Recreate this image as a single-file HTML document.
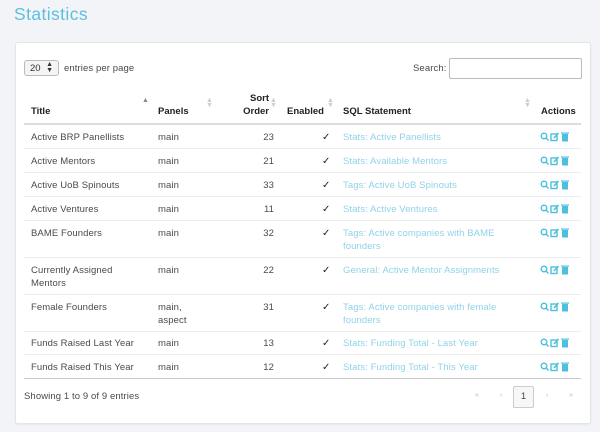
<!DOCTYPE html>
<html><head><meta charset="utf-8"><style>
*{margin:0;padding:0;box-sizing:border-box}
body{width:600px;height:432px;background:#f3f4f8;font-family:"Liberation Sans",sans-serif;position:relative;overflow:hidden;color:#333}
.a{position:absolute;white-space:nowrap}
h1{position:absolute;left:14px;top:4px;font-weight:normal;font-size:17.5px;color:#5bc0de;letter-spacing:0.4px}
.card{position:absolute;left:15px;top:42px;width:576px;height:382px;background:#fff;border:1px solid #e3e5ea;border-radius:3px;box-shadow:0 1px 2px rgba(0,0,0,.06)}
.t{font-size:9.5px;color:#4a4a4a;letter-spacing:0.1px}
.h{font-size:9.5px;font-weight:bold;color:#222}
.l{font-size:9.5px;color:#8fd3e8;letter-spacing:0.1px}
.line{position:absolute;left:24px;width:557px;height:1px;background:#ececec}
.sort{position:absolute;font-size:7px;color:#ccc;line-height:5px}
.ic{position:absolute;width:30px;height:10px}
.ck{font-size:10px;color:#222}
</style></head><body>
<h1>Statistics</h1>
<div class="card"></div>
<div class="a" style="left:24px;top:60px;width:35px;height:16px;border:1px solid #bbb;border-radius:3px;background:#f4f4f4;font-size:9.5px;padding:2px 0 0 5px">20 <span style="position:absolute;right:5px;top:1px;font-size:7px;line-height:6px">▲<br>▼</span></div>
<div class="a t" style="left:64px;top:63px">entries per page</div>
<div class="a t" style="left:413px;top:63px">Search:</div>
<div class="a" style="left:449px;top:58px;width:133px;height:21px;border:1px solid #bbb;border-radius:2px"></div>

<div class="a h" style="left:31px;top:106px">Title</div>
<div class="a" style="left:142px;top:97px;font-size:7px;color:#888">▲</div>
<div class="a h" style="left:158px;top:106px">Panels</div>
<div class="sort" style="left:206px;top:98px">▲<br>▼</div>
<div class="a h" style="left:242px;top:93px;text-align:right;width:27px">Sort</div>
<div class="a h" style="left:236px;top:106px;text-align:right;width:33px">Order</div>
<div class="sort" style="left:270px;top:98px">▲<br>▼</div>
<div class="a h" style="left:287px;top:106px">Enabled</div>
<div class="sort" style="left:327px;top:98px">▲<br>▼</div>
<div class="a h" style="left:343px;top:106px">SQL Statement</div>
<div class="sort" style="left:524px;top:98px">▲<br>▼</div>
<div class="a h" style="left:541px;top:106px">Actions</div>
<div class="line" style="top:123px;height:2px;background:#ddd"></div>

<div id="rows"></div>
<div class="line" style="top:378px;height:1px;background:#ccc"></div>
<div class="a t" style="left:24px;top:391px">Showing 1 to 9 of 9 entries</div>
<div class="a" style="left:475px;top:392px;font-size:7px;color:#bbb">«</div>
<div class="a" style="left:500px;top:392px;font-size:7px;color:#bbb">‹</div>
<div class="a" style="left:513px;top:386px;width:21px;height:22px;border:1px solid #ccc;border-radius:2px;background:#f7f7f7;font-size:9.5px;text-align:center;line-height:20px;color:#444">1</div>
<div class="a" style="left:546px;top:392px;font-size:7px;color:#bbb">›</div>
<div class="a" style="left:569px;top:392px;font-size:7px;color:#bbb">»</div>
<script>
var rows=[
["Active BRP Panellists","main","23","Stats: Active Panellists",130,148],
["Active Mentors","main","21","Stats: Available Mentors",154,172],
["Active UoB Spinouts","main","33","Tags: Active UoB Spinouts",178,196],
["Active Ventures","main","11","Stats: Active Ventures",202,220],
["BAME Founders","main","32","Tags: Active companies with BAME<br>founders",226,257],
["Currently Assigned<br>Mentors","main","22","General: Active Mentor Assignments",263,294],
["Female Founders","main,<br>aspect","31","Tags: Active companies with female<br>founders",300,331],
["Funds Raised Last Year","main","13","Stats: Funding Total - Last Year",336,354],
["Funds Raised This Year","main","12","Stats: Funding Total - This Year",360,null]];
var s="";
var icon='<svg class="ic" viewBox="0 0 30 10"><g fill="none" stroke="#4cc0de" stroke-width="1.4"><circle cx="4" cy="4" r="2.8"/><path d="M6 6l2.5 2.5"/><rect x="11" y="2" width="6" height="6.5"/></g><path d="M14 6l4.5-5" stroke="#4cc0de" stroke-width="1.6"/><rect x="22" y="2" width="6" height="7.5" fill="#4cc0de"/><rect x="21" y="0.5" width="8" height="1.2" fill="#4cc0de"/></svg>';
rows.forEach(function(r){
 var y=r[4]+1;
 s+='<div class="a t" style="left:31px;top:'+y+'px;line-height:13px">'+r[0]+'</div>';
 s+='<div class="a t" style="left:158px;top:'+y+'px;line-height:13px">'+r[1]+'</div>';
 s+='<div class="a t" style="left:240px;width:34px;text-align:right;top:'+y+'px;line-height:13px">'+r[2]+'</div>';
 s+='<div class="a ck" style="left:322px;top:'+y+'px;line-height:13px">✓</div>';
 s+='<div class="a l" style="left:343px;top:'+y+'px;line-height:13px">'+r[3]+'</div>';
 s+='<div class="a" style="left:540px;top:'+(y+1)+'px">'+icon+'</div>';
 if(r[5])s+='<div class="line" style="top:'+r[5]+'px"></div>';
});
document.getElementById("rows").innerHTML=s;
</script>
</body></html>
